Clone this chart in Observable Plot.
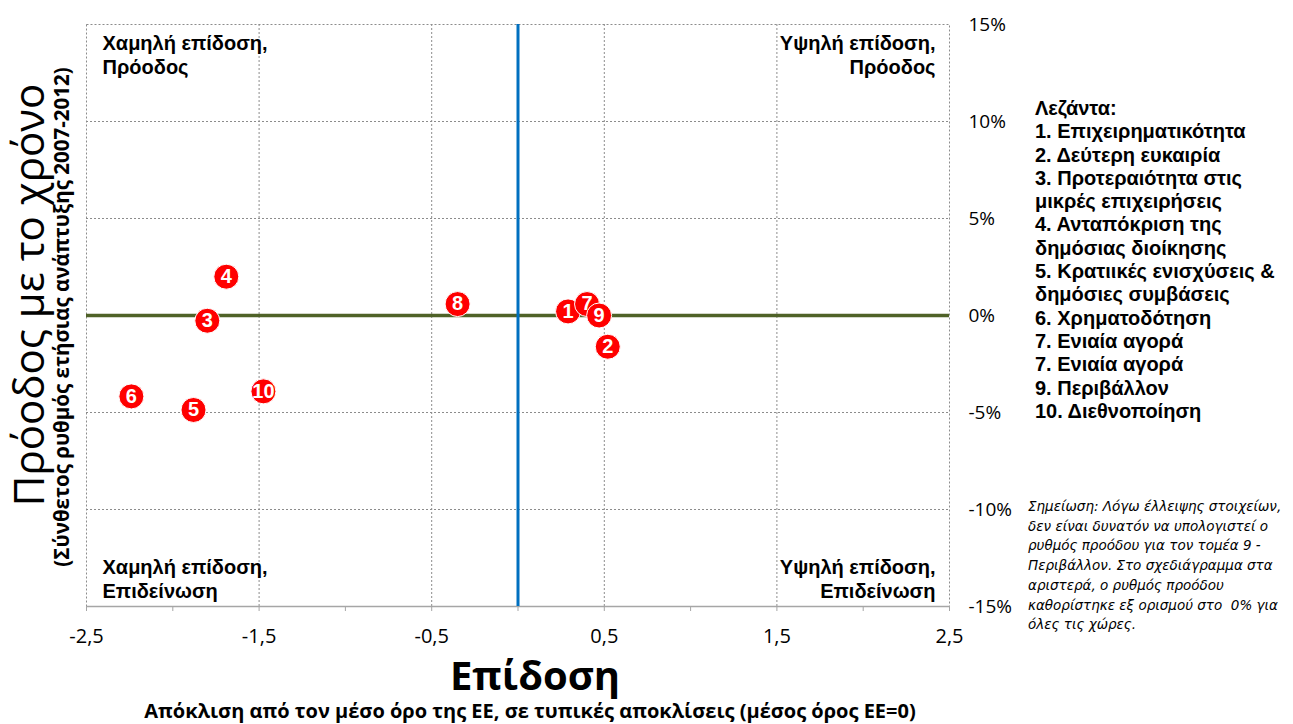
<!DOCTYPE html>
<html><head><meta charset="utf-8">
<script src="https://cdn.jsdelivr.net/npm/d3@7"></script>
<script src="https://cdn.jsdelivr.net/npm/@observablehq/plot@0.6"></script>
<style>
body{margin:0;background:#fff;}
#wrap{position:relative;width:1293px;height:724px;overflow:hidden;}
#wrap svg{position:absolute;left:0;top:0;}
.ov{position:absolute;white-space:nowrap;color:#000;}
.calibri{font-family:"Open Sans","Noto Sans",sans-serif;}
.arial{font-family:"Liberation Sans",Arial,sans-serif;}
#ytitle{left:28px;top:295px;transform:translate(-50%,-50%) rotate(-90deg);font-size:42px;line-height:1.1;}
#ysub{left:61px;top:317px;transform:translate(-50%,-50%) rotate(-90deg);font-size:20.5px;font-weight:bold;line-height:1;}
#xtitle{left:535px;top:675px;transform:translate(-50%,-50%);font-size:40px;font-weight:bold;line-height:1;}
#xsub{left:530px;top:711px;transform:translate(-50%,-50%);font-size:20px;font-weight:bold;line-height:1.1;}
#legend{left:1035px;top:97px;font-size:20px;font-weight:bold;line-height:23.3px;}
#note{left:1028px;top:497px;font-family:"DejaVu Sans",sans-serif;font-size:13.5px;font-style:italic;line-height:19.7px;white-space:pre;}
</style></head><body><div id="wrap"></div>
<script>
// Data
const ids = ["1","2","3","4","5","6","7","8","9","10"];
const perfScore = [0.29, 0.52, -1.80, -1.69, -1.88, -2.24, 0.40, -0.35, 0.47, -1.475];
const progressRate = [0.21, -1.61, -0.27, 2.0, -4.87, -4.17, 0.59, 0.59, 0, -3.91];

const xTickLabels = [-2.5, -1.5, -0.5, 0.5, 1.5, 2.5];
const xMinorTicks = [-2, -1, 0, 1, 2];
const xGrid = [-1.5, -0.5, 0.5, 1.5];
const yTickLabels = [15, 10, 5, 0, -5, -10, -15];
const yGrid = [10, 5, -5, -10];

const qTopLeft = "Χαμηλή επίδοση,\nΠρόοδος";
const qTopRight = "Υψηλή επίδοση,\nΠρόοδος";
const qBottomLeft = "Χαμηλή επίδοση,\nΕπιδείνωση";
const qBottomRight = "Υψηλή επίδοση,\nΕπιδείνωση";

const legendTitle = "Λεζάντα:";
const legendLines = [
  "1. Επιχειρηματικότητα",
  "2. Δεύτερη ευκαιρία",
  "3. Προτεραιότητα στις",
  "μικρές επιχειρήσεις",
  "4. Ανταπόκριση της",
  "δημόσιας διοίκησης",
  "5. Κρατιικές ενισχύσεις &",
  "δημόσιες συμβάσεις",
  "6. Χρηματοδότηση",
  "7. Ενιαία αγορά",
  "7. Ενιαία αγορά",
  "9. Περιβάλλον",
  "10. Διεθνοποίηση"
];
const noteLines = [
  "Σημείωση: Λόγω έλλειψης στοιχείων,",
  "δεν είναι δυνατόν να υπολογιστεί ο",
  "ρυθμός προόδου για τον τομέα 9 -",
  "Περιβάλλον. Στο σχεδιάγραμμα στα",
  "αριστερά, ο ρυθμός προόδου",
  "καθορίστηκε εξ ορισμού στο  0% για",
  "όλες τις χώρες."
];
const yTitle = "Πρόοδος με το χρόνο";
const ySubtitle = "(Σύνθετος ρυθμός ετήσιας ανάπτυξης 2007-2012)";
const xTitle = "Επίδοση";
const xSubtitle = "Απόκλιση από τον μέσο όρο της ΕΕ, σε τυπικές αποκλίσεις (μέσος όρος ΕΕ=0)";

const points = ids.map((id, i) => ({id, x: perfScore[i], y: progressRate[i]}));
const fmtX = d => String(d).replace(".", ",");

const calibri = '"Open Sans","Noto Sans",sans-serif';
const arial = '"Liberation Sans",Arial,sans-serif';
const qStyle = {fontFamily: arial, fontWeight: "bold", fontSize: 20, lineHeight: 1.2, fill: "black"};

const chart = Plot.plot({
  width: 1293, height: 724,
  marginLeft: 86, marginRight: 344, marginTop: 24, marginBottom: 118,
  style: {background: "white", fontFamily: calibri, overflow: "visible"},
  x: {domain: [-2.5, 2.5]},
  y: {domain: [-15, 15]},
  marks: [
    Plot.gridX(xGrid, {stroke: "#8c8c8c", strokeOpacity: 1, strokeDasharray: "2,2"}),
    Plot.gridY(yGrid, {stroke: "#8c8c8c", strokeOpacity: 1, strokeDasharray: "2,2"}),
    Plot.frame({stroke: "#8c8c8c", strokeDasharray: "2,2"}),
    Plot.ruleY([-15], {stroke: "#a6a6a6", strokeWidth: 1.3}),
    Plot.axisX(xTickLabels.concat(xMinorTicks), {tickSize: 5, stroke: "#a6a6a6", tickFormat: () => "", label: null}),
    Plot.axisX(xTickLabels, {tickSize: 0, tickPadding: 22, tickFormat: fmtX, fontSize: 20, fontFamily: calibri, label: null}),
    Plot.axisY(yTickLabels, {anchor: "right", tickSize: 0, tickPadding: 19, tickFormat: d => d + "%", fontSize: 19, fontFamily: calibri, label: null}),
    Plot.text([qTopLeft], {text: d => d, frameAnchor: "top-left", lineAnchor: "top", textAnchor: "start", dx: 16, dy: 8, ...qStyle}),
    Plot.text([qTopRight], {text: d => d, frameAnchor: "top-right", lineAnchor: "top", textAnchor: "end", dx: -14, dy: 8, ...qStyle}),
    Plot.text([qBottomLeft], {text: d => d, frameAnchor: "bottom-left", lineAnchor: "bottom", textAnchor: "start", dx: 16, dy: -9, ...qStyle}),
    Plot.text([qBottomRight], {text: d => d, frameAnchor: "bottom-right", lineAnchor: "bottom", textAnchor: "end", dx: -14, dy: -9, ...qStyle}),
    Plot.ruleY([0], {stroke: "#4f6228", strokeWidth: 3.5}),
    Plot.ruleX([0], {stroke: "#0070c0", strokeWidth: 3}),
    Plot.dot(points, {x: "x", y: "y", r: 12.5, fill: "#ff0000", stroke: "white", strokeWidth: 1}),
    Plot.text(points, {x: "x", y: "y", text: "id", fill: "white", fontFamily: arial, fontWeight: "bold", fontSize: 20})
  ]
});

const wrap = document.getElementById("wrap");
wrap.appendChild(chart);

function addDiv(id, cls, html) {
  const d = document.createElement("div");
  d.id = id; d.className = "ov " + cls; d.innerHTML = html;
  wrap.appendChild(d);
}
addDiv("ytitle", "calibri", yTitle);
addDiv("ysub", "calibri", ySubtitle);
addDiv("xtitle", "calibri", xTitle);
addDiv("xsub", "calibri", xSubtitle);
addDiv("legend", "arial", [legendTitle].concat(legendLines).join("<br>"));
addDiv("note", "", noteLines.join("\n"));
</script>
</body></html>
